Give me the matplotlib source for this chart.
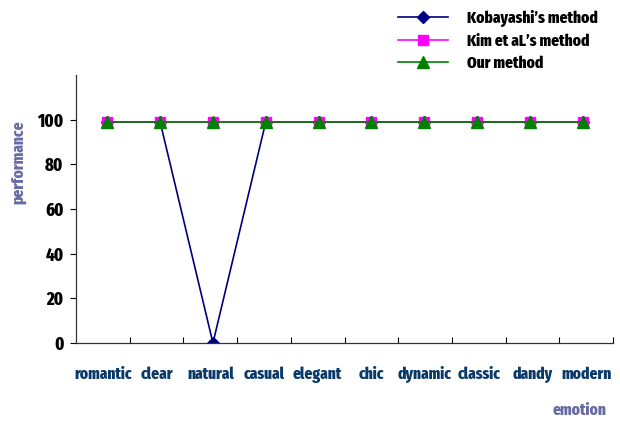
import matplotlib
matplotlib.use("Agg")
import matplotlib.pyplot as plt
from matplotlib.ticker import FixedLocator
import numpy as np

categories = ["romantic", "clear", "natural", "casual", "elegant",
              "chic", "dynamic", "classic", "dandy", "modern"]
kobayashi = [99, 99, 0, 99, 99, 99, 99, 99, 99, 99]
kim = [99, 99, 99, 99, 99, 99, 99, 99, 99, 99]
ours = [99, 99, 99, 99, 99, 99, 99, 99, 99, 99]
yticks = [0, 20, 40, 60, 80, 100]

font = ["Fira Sans Extra Condensed", "DejaVu Sans"]
plt.rcParams["font.family"] = font
plt.rcParams["font.weight"] = 800

fig = plt.figure(figsize=(6.2, 4.21), dpi=100)
ax = fig.add_axes([0.1226, 0.1853, 0.8661, 0.6366])

x = np.arange(len(categories))
l1, = ax.plot(x, kobayashi, color="#000080", lw=1.2, marker="D", ms=6.5,
              mfc="#000080", mec="#000080", label="Kobayashi\u2019s method")
l2, = ax.plot(x, kim, color="#ff00ff", lw=1.2, marker="s", ms=7,
              mfc="#ff00ff", mec="#ff00ff", label="Kim et aL\u2019s method")
l3, = ax.plot(x, ours, color="#008000", lw=1.2, marker="^", ms=8.5,
              mfc="#008000", mec="#008000", label="Our method")

# category band layout: points sit slightly inset from the band centres
x_lo, x_hi = -0.592, 9.572
n = len(categories)
band = (x_hi - x_lo) / n
ax.set_xlim(x_lo, x_hi)
ax.set_ylim(0, 120)

ax.set_yticks(yticks)
ax.set_yticklabels([str(v) for v in yticks], fontsize=13, fontweight=800,
                   color="black")
ax.tick_params(axis="y", direction="out", length=4, width=0.8, pad=5)

centres = x_lo + (np.arange(n) + 0.5) * band
ax.set_xticks(centres)
ax.set_xticklabels(categories, fontsize=12, fontweight=800, color="#0a3a6a",
                   va="baseline")
ax.tick_params(axis="x", which="major", length=0, pad=26)
ax.xaxis.set_minor_locator(FixedLocator(x_lo + np.arange(1, n + 1) * band))
ax.tick_params(axis="x", which="minor", direction="in", length=4, width=0.8)

for s in ["top", "right"]:
    ax.spines[s].set_visible(False)
for s in ["left", "bottom"]:
    ax.spines[s].set_color("#333333")
    ax.spines[s].set_linewidth(0.9)

fig.text(0.029, 0.615, "performance", rotation=90, ha="center", va="center",
         fontsize=12, fontweight=800, color="#6b6ba3")
fig.text(0.934, 0.024, "emotion", ha="center", va="center",
         fontsize=12, fontweight=800, color="#6b6ba3")

fig.legend(handles=[l1, l2, l3], loc="upper left",
           bbox_to_anchor=(0.642, 0.976), frameon=False,
           prop={"weight": 800, "family": font, "size": 12},
           borderpad=0, borderaxespad=0,
           handlelength=3.0, handletextpad=1.15, labelspacing=0.38)

fig.savefig("out.png", dpi=100)
